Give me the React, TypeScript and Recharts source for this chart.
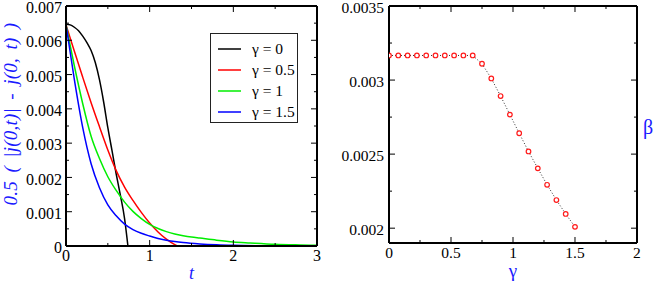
import React from 'react';
import { LineChart, Line, XAxis, YAxis, Legend, Label } from 'recharts';

// ---- Left panel data ----
const seriesNames = ['γ = 0', 'γ = 0.5', 'γ = 1', 'γ = 1.5'];

const tBlack = [0, 0.05, 0.1, 0.15, 0.2, 0.25, 0.3, 0.35, 0.4, 0.45, 0.5, 0.55, 0.6, 0.65, 0.7, 0.74];
const jBlack = [0.00647, 0.00645, 0.00638, 0.00628, 0.00612, 0.00593, 0.0057, 0.00535, 0.00485, 0.0042, 0.00345, 0.00278, 0.0021, 0.00148, 0.0008, 0];

const tRed = [0, 0.1, 0.2, 0.3, 0.4, 0.5, 0.6, 0.7, 0.8, 0.9, 1.0, 1.1, 1.2, 1.3, 1.33];
const jRed = [0.00645, 0.00568, 0.00492, 0.00418, 0.00348, 0.0028, 0.0022, 0.00172, 0.00133, 0.00098, 0.00067, 0.00041, 0.0002, 0.00004, 0];

const tGreen = [0, 0.1, 0.2, 0.3, 0.4, 0.5, 0.6, 0.7, 0.8, 0.9, 1.0, 1.1, 1.2, 1.3, 1.4, 1.5, 1.6, 1.8, 2.0, 2.2, 2.5, 2.8, 3.0];
const jGreen = [0.00645, 0.00525, 0.00415, 0.0032, 0.00255, 0.00202, 0.00162, 0.00128, 0.00101, 0.0008, 0.00063, 0.00051, 0.00042, 0.00035, 0.0003, 0.00026, 0.00023, 0.00017, 0.00012, 0.00009, 0.00005, 0.00003, 0.00002];

const tBlue = [0, 0.1, 0.2, 0.3, 0.4, 0.5, 0.6, 0.7, 0.8, 0.9, 1.0, 1.1, 1.2, 1.3, 1.4, 1.6, 1.8, 2.0, 2.5, 3.0];
const jBlue = [0.00645, 0.00485, 0.00345, 0.0024, 0.0017, 0.0012, 0.00088, 0.00064, 0.00048, 0.00037, 0.00029, 0.00022, 0.00017, 0.00013, 0.0001, 0.00006, 0.000035, 0.00002, 0.000005, 0.000001];

const xTicksL = [0, 1, 2, 3];
const xMinorL = [0.5, 1.5, 2.5];
const yTicksL = [0, 0.001, 0.002, 0.003, 0.004, 0.005, 0.006, 0.007];
const yMinorL = [0.0005, 0.0015, 0.0025, 0.0035, 0.0045, 0.0055, 0.0065];

// ---- Right panel data ----
const gammaPts = [0, 0.075, 0.15, 0.225, 0.3, 0.375, 0.45, 0.525, 0.6, 0.675, 0.75, 0.825, 0.9, 0.975, 1.05, 1.125, 1.2, 1.275, 1.35, 1.425, 1.5];
const betaPts = [0.003166, 0.003166, 0.003166, 0.003166, 0.003166, 0.003166, 0.003166, 0.003166, 0.003166, 0.003166, 0.00311, 0.003011, 0.002892, 0.002767, 0.002641, 0.002518, 0.002404, 0.002293, 0.00219, 0.002096, 0.002009];

const xTicksR = [0, 0.5, 1, 1.5, 2];
const xMinorR = [0.25, 0.75, 1.25, 1.75];
const yTicksR = [0.002, 0.0025, 0.003, 0.0035];
const yMinorR = [0.00225, 0.00275, 0.00325];

// ---- styles ----
const colors = ['#000000', '#ff0000', '#00ee00', '#0000ff'];
const FONT = "'Liberation Serif', 'Times New Roman', Times, serif";
const LABEL_BLUE = '#1a1aff';
const tickX_L = { fill: '#000', fontSize: 16, fontFamily: FONT };
const tickY_L = { fill: '#000', fontSize: 16, fontFamily: FONT, dy: 1.5 };
const tickX_R = { fill: '#000', fontSize: 15.5, fontFamily: FONT };
const tickY_R = { fill: '#000', fontSize: 15.5, fontFamily: FONT, dy: 1.5 };
const frame = { stroke: '#000', strokeWidth: 2 };
const tl = { stroke: '#000', strokeWidth: 1 };
const blank = () => '';
const THIN = 0.001;

const series = [
  { name: seriesNames[0], color: colors[0], data: tBlack.map((x, i) => ({ x, y: jBlack[i] })) },
  { name: seriesNames[1], color: colors[1], data: tRed.map((x, i) => ({ x, y: jRed[i] })) },
  { name: seriesNames[2], color: colors[2], data: tGreen.map((x, i) => ({ x, y: jGreen[i] })) },
  { name: seriesNames[3], color: colors[3], data: tBlue.map((x, i) => ({ x, y: jBlue[i] })) },
];
const betaData = gammaPts.map((x, i) => ({ x, y: betaPts[i] }));

function LegendBox() {
  return (
    <div
      style={{
        width: 88,
        height: 90,
        boxSizing: 'border-box',
        border: '1px solid #222',
        background: '#fff',
        paddingTop: 5,
        fontFamily: FONT,
        fontSize: 15.5,
        color: '#000',
      }}
    >
      {series.map((s) => (
        <div key={s.name} style={{ display: 'flex', alignItems: 'center', height: 20.8 }}>
          <svg width={33} height={4} style={{ display: 'block' }}>
            <line x1={7} x2={30} y1={2} y2={2} stroke={s.color} strokeWidth={1.5} />
          </svg>
          <span style={{ marginLeft: 8, lineHeight: '20px', whiteSpace: 'nowrap', fontFamily: FONT }}>{s.name}</span>
        </div>
      ))}
    </div>
  );
}

function axesSet(
  xDomain: number[],
  yDomain: number[],
  xTicks: number[],
  xMinor: number[],
  yTicks: number[],
  yMinor: number[],
  xMargin: number,
  yMargin: number,
  tickX: any,
  tickY: any,
  xLabel: React.ReactNode,
  yLabel: React.ReactNode
) {
  return [
    <XAxis key="xb" xAxisId="b" type="number" dataKey="x" domain={xDomain} ticks={xTicks} interval={0}
      orientation="bottom" height={THIN} tickSize={-6} tickMargin={xMargin} axisLine={frame} tickLine={tl}
      tick={tickX} allowDataOverflow>{xLabel}</XAxis>,
    <XAxis key="xbm" xAxisId="bm" type="number" dataKey="x" domain={xDomain} ticks={xMinor} interval={0}
      orientation="bottom" height={THIN} tickSize={-3} axisLine={false} tickLine={tl} tickFormatter={blank} allowDataOverflow />,
    <XAxis key="xt" xAxisId="t" type="number" dataKey="x" domain={xDomain} ticks={xTicks} interval={0}
      orientation="top" height={THIN} tickSize={-6} axisLine={frame} tickLine={tl} tickFormatter={blank} allowDataOverflow />,
    <XAxis key="xtm" xAxisId="tm" type="number" dataKey="x" domain={xDomain} ticks={xMinor} interval={0}
      orientation="top" height={THIN} tickSize={-3} axisLine={false} tickLine={tl} tickFormatter={blank} allowDataOverflow />,
    <YAxis key="yl" yAxisId="l" type="number" domain={yDomain} ticks={yTicks} interval={0}
      orientation="left" width={THIN} tickSize={-6} tickMargin={yMargin} axisLine={frame} tickLine={tl}
      tick={tickY} allowDataOverflow>{yLabel}</YAxis>,
    <YAxis key="ylm" yAxisId="lm" type="number" domain={yDomain} ticks={yMinor} interval={0}
      orientation="left" width={THIN} tickSize={-3} axisLine={false} tickLine={tl} tickFormatter={blank} allowDataOverflow />,
    <YAxis key="yr" yAxisId="r" type="number" domain={yDomain} ticks={yTicks} interval={0}
      orientation="right" width={THIN} tickSize={-6} axisLine={frame} tickLine={tl} tickFormatter={blank} allowDataOverflow />,
    <YAxis key="yrm" yAxisId="rm" type="number" domain={yDomain} ticks={yMinor} interval={0}
      orientation="right" width={THIN} tickSize={-3} axisLine={false} tickLine={tl} tickFormatter={blank} allowDataOverflow />,
  ];
}

export default function App() {
  const leftYLabel = (
    <Label
      content={(p: any) => {
        const vb = p.viewBox || {};
        const cx = vb.x - 49.5;
        const cy = vb.y + vb.height / 2 - 12;
        return (
          <text
            transform={`translate(${cx}, ${cy}) rotate(-90)`}
            textAnchor="middle"
            fill={LABEL_BLUE}
            style={{ fontFamily: FONT, fontStyle: 'italic', fontSize: 19, letterSpacing: 0.2, wordSpacing: 3.5 }}
          >
            0.5 ( |j(0,t)| - j(0, t) )
          </text>
        );
      }}
    />
  );
  const leftXLabel = (
    <Label
      content={(p: any) => {
        const vb = p.viewBox || {};
        return (
          <text x={vb.x + vb.width / 2} y={vb.y + 33} textAnchor="middle" fill={LABEL_BLUE}
            style={{ fontFamily: FONT, fontStyle: 'italic', fontSize: 18 }}>
            t
          </text>
        );
      }}
    />
  );
  const rightXLabel = (
    <Label
      content={(p: any) => {
        const vb = p.viewBox || {};
        return (
          <text x={vb.x + vb.width / 2} y={vb.y + 34} textAnchor="middle" fill={LABEL_BLUE}
            style={{ fontFamily: FONT, fontSize: 19 }}>
            γ
          </text>
        );
      }}
    />
  );
  const rightYLabel = (
    <Label
      content={(p: any) => {
        const vb = p.viewBox || {};
        return (
          <text x={vb.x + 259} y={vb.y + vb.height / 2 + 9} textAnchor="middle" fill={LABEL_BLUE}
            style={{ fontFamily: FONT, fontSize: 20 }}>
            β
          </text>
        );
      }}
    />
  );

  return (
    <div style={{ position: 'absolute', left: 0, top: 0, width: 654, height: 283, background: '#fff', fontFamily: FONT }}>
      <div style={{ position: 'absolute', left: 0, top: 0 }}>
        <LineChart width={330} height={283} margin={{ top: 6, right: 13, bottom: 37, left: 66 }} style={{ fontFamily: FONT }}>
          {axesSet([0, 3], [0, 0.007], xTicksL, xMinorL, yTicksL, yMinorL, 10, 10, tickX_L, tickY_L, leftXLabel, leftYLabel)}
          {series.map((s) => (
            <Line key={s.name} name={s.name} data={s.data} dataKey="y" xAxisId="b" yAxisId="l"
              type="monotone" stroke={s.color} strokeWidth={1.5} dot={false} isAnimationActive={false} />
          ))}
          <Legend layout="vertical" align="center" verticalAlign="middle"
            wrapperStyle={{ left: 210, top: 33, width: 88, height: 90 }} content={() => <LegendBox />} />
        </LineChart>
      </div>
      <div style={{ position: 'absolute', left: 330, top: 0 }}>
        <LineChart width={324} height={283} margin={{ top: 6, right: 17, bottom: 40, left: 59 }} style={{ fontFamily: FONT }}>
          {axesSet([0, 2], [0.0019, 0.0035], xTicksR, xMinorR, yTicksR, yMinorR, 10, 11, tickX_R, tickY_R, rightXLabel, rightYLabel)}
          <Line data={betaData} dataKey="y" xAxisId="b" yAxisId="l" type="linear"
            stroke="#333" strokeWidth={1} strokeDasharray="1 2"
            dot={{ r: 2.3, stroke: '#ff1a1a', strokeWidth: 1.2, fill: '#fff', strokeDasharray: '0' }}
            isAnimationActive={false} />
        </LineChart>
      </div>
    </div>
  );
}
